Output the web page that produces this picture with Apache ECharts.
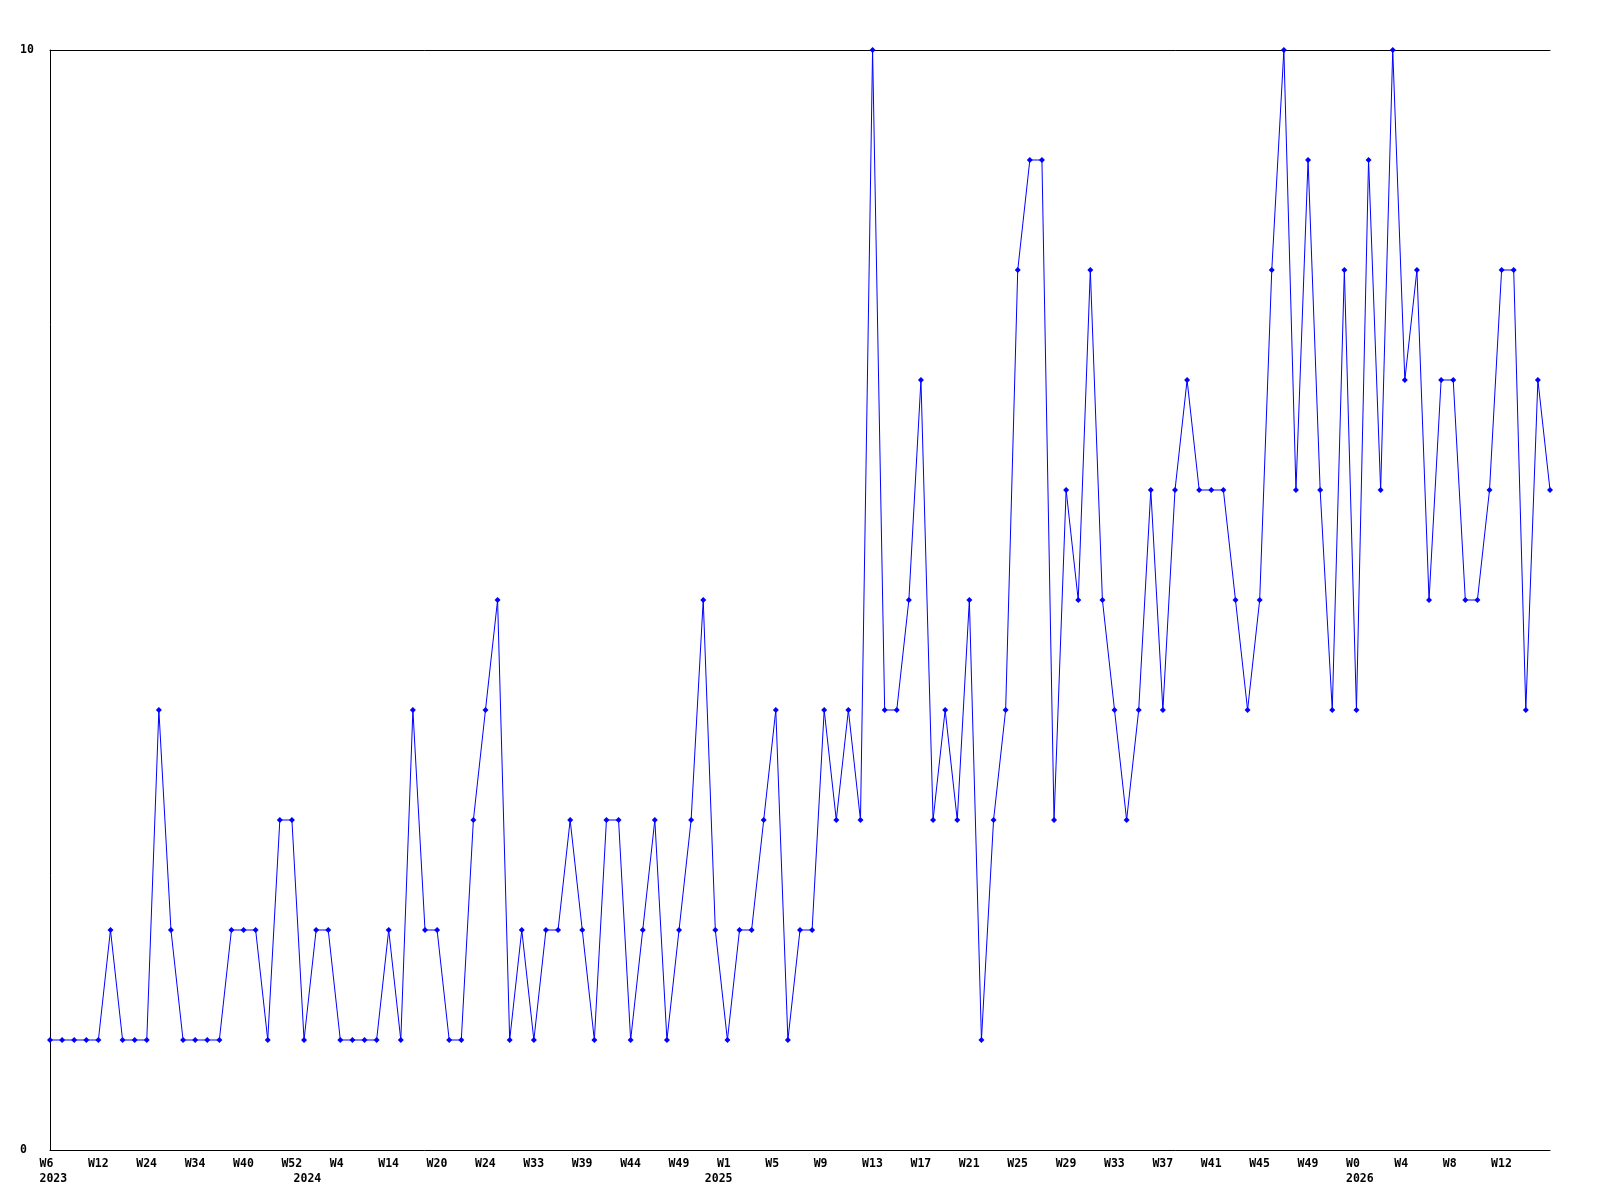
<!DOCTYPE html>
<html>
<head>
<meta charset="utf-8">
<script src="https://cdn.jsdelivr.net/npm/echarts@6/dist/echarts.min.js"></script>
<style>
html,body{margin:0;padding:0;background:#fff;}
#chart{width:1600px;height:1200px;}
</style>
</head>
<body>
<div id="chart"></div>
<script>
// Week categories per year (only every 4th label is visible; hidden ones estimated)
const weeks2023 = ['W6','W7','W8','W10','W12','W14','W17','W20','W24','W26','W28','W31','W34','W35','W37','W38','W40','W42','W45','W48','W52'];
const weeks2024 = ['W1','W2','W3','W4','W6','W9','W11','W14','W16','W17','W19','W20','W21','W22','W23','W24','W26','W28','W31','W33','W34','W36','W37','W39','W40','W42','W43','W44','W45','W47','W48','W49','W50','W51'];
const weeks2025 = ['W0','W1','W2','W3','W4','W5','W6','W7','W8','W9','W10','W11','W12','W13','W14','W15','W16','W17','W18','W19','W20','W21','W22','W23','W24','W25','W26','W27','W28','W29','W30','W31','W32','W33','W34','W35','W36','W37','W38','W39','W40','W41','W42','W43','W44','W45','W46','W47','W48','W49','W50','W51','W52'];
const weeks2026 = ['W0','W1','W2','W3','W4','W5','W6','W7','W8','W9','W10','W11','W12','W13','W14','W15','W16'];

const values = [
  1,1,1,1,1,2,1,1,1,4,
  2,1,1,1,1,2,2,2,1,3,
  3,1,2,2,1,1,1,1,2,1,
  4,2,2,1,1,3,4,5,1,2,
  1,2,2,3,2,1,3,3,1,2,
  3,1,2,3,5,2,1,2,2,3,
  4,1,2,2,4,3,4,3,10,4,
  4,5,7,3,4,3,5,1,3,4,
  8,9,9,3,6,5,8,5,4,3,
  4,6,4,6,7,6,6,6,5,4,
  5,8,10,6,9,6,4,8,4,9,
  6,10,7,8,5,7,7,5,5,6,
  8,8,4,7,6
];

const yTicks = [0, 10];

const categories = []
  .concat(weeks2023.map(w => '2023 ' + w))
  .concat(weeks2024.map(w => '2024 ' + w))
  .concat(weeks2025.map(w => '2025 ' + w))
  .concat(weeks2026.map(w => '2026 ' + w));

function isYearStart(i) {
  return i === 0 || categories[i].split(' ')[0] !== categories[i - 1].split(' ')[0];
}
function isWeekLabel(i) {
  return i % 4 === 0 && i < categories.length - 1;
}

const FONT = '"DejaVu Sans Mono", "Liberation Mono", monospace';

const chart = echarts.init(document.getElementById('chart'), null, {renderer: 'canvas'});
chart.setOption({
  animation: false,
  backgroundColor: '#ffffff',
  grid: {left: 50, right: 50, top: 50, bottom: 50, containLabel: false},
  xAxis: [{
    type: 'category',
    position: 'bottom',
    data: categories,
    boundaryGap: false,
    axisLine: {show: true, lineStyle: {color: '#000', width: 1}},
    axisTick: {show: false},
    splitLine: {show: false},
    axisLabel: {
      show: true,
      interval: (i) => isWeekLabel(i) || isYearStart(i),
      formatter: (v, i) => {
        const parts = v.split(' ');
        const wk = isWeekLabel(i) ? parts[1] : '';
        return isYearStart(i) ? wk + '\n' + parts[0] : wk;
      },
      align: 'left',
      verticalAlign: 'top',
      padding: [0, 0, 0, -10.5],
      margin: 7,
      color: '#000',
      fontFamily: FONT,
      fontWeight: 'bold',
      fontSize: 11.5,
      lineHeight: 14.5
    }
  }, {
    type: 'category',
    position: 'top',
    data: categories,
    boundaryGap: false,
    axisLine: {show: true, lineStyle: {color: '#000', width: 1}},
    axisTick: {show: false},
    axisLabel: {show: false},
    splitLine: {show: false}
  }],
  yAxis: {
    type: 'value',
    min: yTicks[0],
    max: yTicks[1],
    interval: yTicks[1] - yTicks[0],
    axisLine: {show: true, lineStyle: {color: '#000', width: 1}},
    axisTick: {show: false},
    splitLine: {show: false},
    axisLabel: {
      show: true,
      align: 'left',
      margin: 30,
      color: '#000',
      fontFamily: FONT,
      fontWeight: 'bold',
      fontSize: 11.5
    }
  },
  series: [{
    type: 'line',
    xAxisIndex: 0,
    data: values,
    symbol: 'diamond',
    symbolSize: 6,
    showSymbol: true,
    showAllSymbol: true,
    lineStyle: {color: '#0000ff', width: 1},
    itemStyle: {color: '#0000ff'},
    emphasis: {disabled: true}
  }]
});
</script>
</body>
</html>
